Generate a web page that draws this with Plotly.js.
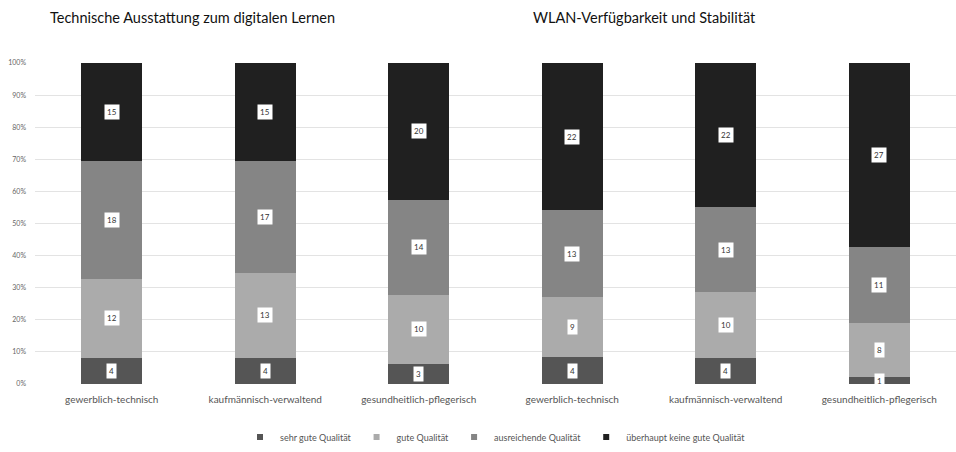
<!DOCTYPE html>
<html><head><meta charset="utf-8">
<script src="https://cdn.plot.ly/plotly-3.0.1.min.js"></script>
<style>body{margin:0;background:#fff}#chart{width:956px;height:452px}</style>
</head><body><div id="chart"></div>
<script>
const categories = ["gewerblich-technisch","kaufmännisch-verwaltend","gesundheitlich-pflegerisch","gewerblich-technisch","kaufmännisch-verwaltend","gesundheitlich-pflegerisch"];
const groupTitles = ["Technische Ausstattung zum digitalen Lernen","WLAN-Verfügbarkeit und Stabilität"];
const seriesNames = ["sehr gute Qualität","gute Qualität","ausreichende Qualität","überhaupt keine gute Qualität"];
const sehrGut = [4,4,3,4,4,1];
const gut = [12,13,10,9,10,8];
const ausreichend = [18,17,14,13,13,11];
const keineGute = [15,15,20,22,22,27];
const colors = ["#555555","#ababab","#858585","#202020"];

const series = [sehrGut, gut, ausreichend, keineGute];
const xs = categories.map((c,i)=>i);
const traces = series.map((vals,k)=>({
  type:'bar', x: xs, y: vals, name: seriesNames[k],
  marker:{color: colors[k]}, hoverinfo:'skip', showlegend:false
}));
// small square legend markers
series.forEach((vals,k)=>{
  traces.push({type:'scatter', mode:'markers', x:[null], y:[null], name:seriesNames[k],
    marker:{symbol:'square', size:6, color:colors[k]}, showlegend:true, hoverinfo:'skip'});
});

const annotations = [];
xs.forEach(i=>{
  const total = series.reduce((s,a)=>s+a[i],0);
  let cum = 0;
  series.forEach(a=>{
    const v = a[i];
    const mid = (cum + v/2)/total*100;
    cum += v;
    annotations.push({x:i, y:mid, xref:'x', yref:'y', text:String(v), showarrow:false,
      font:{family:'Lato, sans-serif', size:8, color:'#333'}, bgcolor:'#ffffff', borderpad:2});
  });
});
const titleFont = {family:'Lato, sans-serif', size:14.5, color:'#111'};
annotations.push({x:0.171, y:1, xref:'paper', yref:'paper', xanchor:'center', yshift:46, yanchor:'middle', text:groupTitles[0], showarrow:false, font:titleFont});
annotations.push({x:0.662, y:1, xref:'paper', yref:'paper', xanchor:'center', yshift:46, yanchor:'middle', text:groupTitles[1], showarrow:false, font:titleFont});

const layout = {
  width:956, height:452,
  margin:{l:35, r:0, t:63, b:62},
  barmode:'stack', barnorm:'percent', bargap:0.6,
  paper_bgcolor:'#fff', plot_bgcolor:'#fff',
  font:{family:'Lato, sans-serif', color:'#555'},
  xaxis:{tickmode:'array', tickvals:xs, ticktext:categories, range:[-0.5,5.5],
    showgrid:false, zeroline:false, showline:false, ticks:'', ticklabelstandoff:8, tickfont:{size:10, color:'#555'}},
  yaxis:{range:[0,100], dtick:10, ticksuffix:'%', showgrid:true, gridcolor:'#e3e3e3', gridwidth:1,
    zeroline:false, tickfont:{size:7, color:'#666'}, ticks:'', ticklabelstandoff:8},
  legend:{orientation:'h', x:0.5, xanchor:'center', y:-0.12, yanchor:'top',
    font:{size:9, color:'#555'}, itemwidth:30, traceorder:'normal'},
  annotations: annotations,
  showlegend:true
};
Plotly.newPlot('chart', traces, layout, {displayModeBar:false, staticPlot:true});
</script></body></html>
